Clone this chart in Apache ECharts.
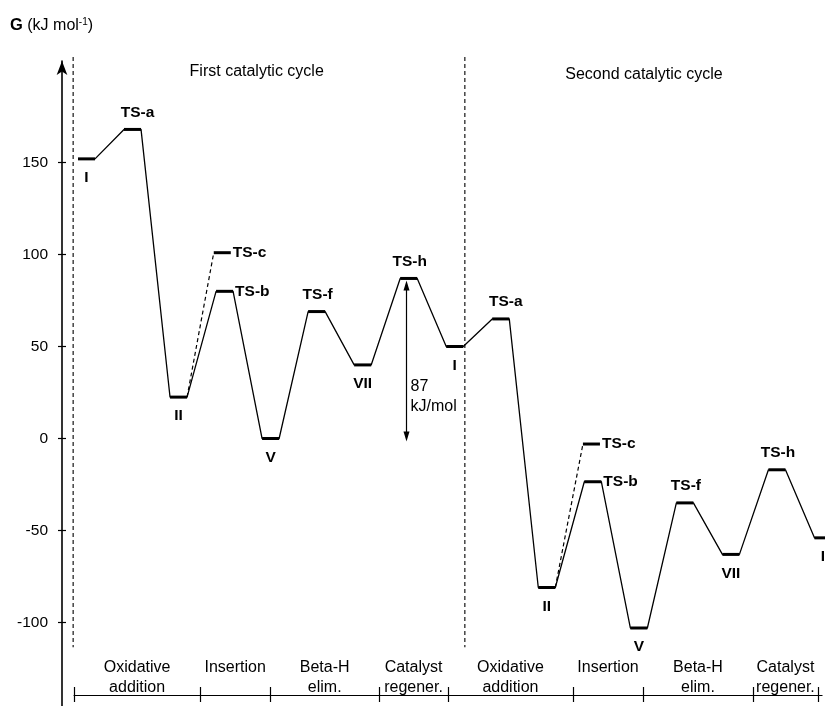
<!DOCTYPE html>
<html>
<head>
<meta charset="utf-8">
<script src="https://cdn.jsdelivr.net/npm/echarts@6.0.0/dist/echarts.min.js"></script>
<style>
html,body{margin:0;padding:0;background:#ffffff;}
#chart{width:825px;height:706px;}
</style>
</head>
<body>
<div id="chart"></div>
<script>
// ---------------- data ----------------
const stateNames = ['I','TS-a','II','TS-b','V','TS-f','VII','TS-h','I','TS-a','II','TS-b','V','TS-f','VII','TS-h','I'];
const stateG     = [152, 168, 22.5, 80, 0, 69, 40, 87, 50, 65, -81, -23.5, -103, -35, -63, -17, -54];
const stateX     = [0, 1, 2, 3, 4, 5, 6, 7, 8, 9, 10, 11, 12, 13, 14, 15, 16];
const altNames   = ['TS-c', 'TS-c'];
const altG       = [101, -3];
const altX       = [2.95, 10.97];
const altFrom    = [2, 10];
const phaseNames = ['Oxidative\naddition','Insertion','Beta-H\nelim.','Catalyst\nregener.','Oxidative\naddition','Insertion','Beta-H\nelim.','Catalyst\nregener.'];
const phaseBounds = [-0.27, 2.47, 3.99, 6.36, 7.85, 10.57, 12.09, 14.48, 15.89];
const cycleTitles = ['First catalytic cycle', 'Second catalytic cycle'];
const cycleSeparators = [-0.29, 8.22];
const yTicks = [-100, -50, 0, 50, 100, 150];
const barrierText = ['87', 'kJ/mol'];
const barrierX = 6.94, barrierTop = 87, barrierBottom = 0;

// ---------------- layout ----------------
const FONT = '"Liberation Sans", Arial, Helvetica, sans-serif';
const W = 825;
const X_MIN = -0.532, X_MAX = 16.044, Y_MIN = -145.4, Y_MAX = 205.2;
const G_LEFT = 62, G_TOP = 61;
const PPU = (W - G_LEFT) / (X_MAX - X_MIN);
const HALF = 0.185;
const SEP_BOTTOM = -113.5;
const axisEnd = phaseBounds[phaseBounds.length - 1] + 0.09;
const g2Left = G_LEFT + (phaseBounds[0] - X_MIN) * PPU;
const g2Right = W - (G_LEFT + (axisEnd - X_MIN) * PPU);
const phaseMids = phaseBounds.slice(0, -1).map((b, i) => (b + phaseBounds[i + 1]) / 2);

// path lines
const mainPath = [];
stateX.forEach((x, i) => { mainPath.push([x - HALF, stateG[i]]); mainPath.push([x + HALF, stateG[i]]); });
const altPaths = altX.map((x, k) => [[stateX[altFrom[k]] + HALF, stateG[altFrom[k]]], [x - HALF, altG[k]]]);

function kindOf(name) {
  if (name === 'TS-b' || name === 'TS-c') return 'right';
  if (name.indexOf('TS') === 0) return 'top';
  return 'bottom';
}
const levelData = stateX.map((x, i) => [x, stateG[i], stateNames[i], kindOf(stateNames[i])])
  .concat(altX.map((x, k) => [x, altG[k], altNames[k], kindOf(altNames[k])]));

function renderLevel(params, api) {
  const x = api.value(0), g = api.value(1);
  const row = levelData[params.dataIndex];
  const name = row[2], kind = row[3];
  const p1 = api.coord([x - HALF, g]), p2 = api.coord([x + HALF, g]);
  const cx = (p1[0] + p2[0]) / 2;
  let tx, ty, align = 'center';
  if (kind === 'top') { tx = cx + (name === 'TS-a' ? 5 : 1); ty = p1[1] - 17; }
  else if (kind === 'bottom') { tx = cx; ty = p1[1] + 19; }
  else { tx = p2[0] + 2; ty = p1[1]; align = 'left'; }
  return {
    type: 'group',
    children: [
      { type: 'line', shape: { x1: p1[0], y1: p1[1], x2: p2[0], y2: p2[1] }, style: { stroke: '#000', lineWidth: 3 } },
      { type: 'text', style: { text: name, x: tx, y: ty, align: align, verticalAlign: 'middle',
        fontSize: 15.5, fontWeight: 'bold', fontFamily: FONT, fill: '#000' } }
    ]
  };
}

function renderSeparator(params, api) {
  const x = api.value(0);
  const top = api.coord([x, Y_MAX]);
  const bot = api.coord([x, SEP_BOTTOM]);
  return { type: 'line', shape: { x1: top[0], y1: top[1] - 4, x2: bot[0], y2: bot[1] },
    style: { stroke: '#000', lineWidth: 1.1, lineDash: [4, 3] } };
}

function renderBarrier(params, api) {
  const x = api.value(0);
  const t = api.coord([x, api.value(1)]);
  const b = api.coord([x, api.value(2)]);
  const px = Math.round(t[0]) + 0.5;
  const yt = t[1] + 2, yb = b[1] + 3;
  return {
    type: 'group',
    children: [
      { type: 'line', shape: { x1: px, y1: yt + 6, x2: px, y2: yb - 6 }, style: { stroke: '#000', lineWidth: 1.2 } },
      { type: 'polygon', shape: { points: [[px, yt], [px - 3, yt + 10], [px + 3, yt + 10]] }, style: { fill: '#000' } },
      { type: 'polygon', shape: { points: [[px, yb], [px - 3, yb - 10], [px + 3, yb - 10]] }, style: { fill: '#000' } },
      { type: 'text', style: { text: barrierText.join('\n'), x: px + 4, y: b[1] - 22, align: 'left', verticalAlign: 'bottom',
        fontSize: 16, lineHeight: 20, fontFamily: FONT, fill: '#000' } }
    ]
  };
}

const chart = echarts.init(document.getElementById('chart'), null, { renderer: 'canvas' });
const option = {
  backgroundColor: '#ffffff',
  animation: false,
  textStyle: { fontFamily: FONT, color: '#000' },
  grid: [
    { left: G_LEFT, right: 0, top: G_TOP, bottom: 0, containLabel: false, outerBoundsMode: 'none' },
    { left: g2Left, right: g2Right, top: 600, bottom: 11, containLabel: false, outerBoundsMode: 'none' }
  ],
  xAxis: [
    { type: 'value', gridIndex: 0, min: X_MIN, max: X_MAX, show: false },
    { type: 'value', gridIndex: 1, min: phaseBounds[0], max: axisEnd, position: 'bottom',
      axisLine: { show: true, onZero: false, lineStyle: { color: '#000', width: 1.2 } },
      axisTick: { show: true, inside: false, length: 7, customValues: phaseBounds, lineStyle: { color: '#000', width: 1.2 } },
      axisLabel: { show: true, inside: true, margin: -3, customValues: phaseMids,
        formatter: function (v) {
          let best = 0;
          phaseMids.forEach((m, i) => { if (Math.abs(m - v) < Math.abs(phaseMids[best] - v)) best = i; });
          const s = phaseNames[best];
          return s.indexOf('\n') >= 0 ? s : s + '\n ';
        },
        fontSize: 16, lineHeight: 20, fontFamily: FONT, color: '#000', verticalAlign: 'bottom' },
      splitLine: { show: false } },
    { type: 'value', gridIndex: 1, min: phaseBounds[0], max: axisEnd, position: 'bottom',
      axisLine: { show: false, onZero: false },
      axisTick: { show: true, inside: true, length: 8, customValues: phaseBounds, lineStyle: { color: '#000', width: 1.2 } },
      axisLabel: { show: false }, splitLine: { show: false } }
  ],
  yAxis: [
    { type: 'value', gridIndex: 0, min: Y_MIN, max: Y_MAX, position: 'left',
      axisLine: { show: true, onZero: false, symbol: ['none', 'arrow'], symbolSize: [8, 14], lineStyle: { color: '#000', width: 1.6 } },
      axisTick: { show: true, inside: false, length: 4, customValues: yTicks, lineStyle: { color: '#000', width: 1.2 } },
      axisLabel: { show: true, margin: 14, customValues: yTicks, fontSize: 15.5, fontFamily: FONT, color: '#000' },
      splitLine: { show: false } },
    { type: 'value', gridIndex: 0, min: Y_MIN, max: Y_MAX, position: 'left',
      axisLine: { show: false, onZero: false },
      axisTick: { show: true, inside: true, length: 4, customValues: yTicks, lineStyle: { color: '#000', width: 1.2 } },
      axisLabel: { show: false }, splitLine: { show: false } },
    { type: 'value', gridIndex: 1, show: false, min: 0, max: 1 }
  ],
  graphic: [
    { type: 'text', left: 10, top: 17, style: { text: '{g|G} (kJ mol{s|-1})', fontSize: 16, fontFamily: FONT, fill: '#000',
      rich: { g: { fontSize: 16.5, fontWeight: 'bold', fontFamily: FONT }, s: { fontSize: 10, fontFamily: FONT, verticalAlign: 'top', padding: [0, 0, 6, 0] } } } },
    { type: 'text', x: 256.7, y: 72, style: { text: cycleTitles[0], align: 'center', verticalAlign: 'middle', fontSize: 16, fontFamily: FONT, fill: '#000' } },
    { type: 'text', x: 644, y: 75, style: { text: cycleTitles[1], align: 'center', verticalAlign: 'middle', fontSize: 16, fontFamily: FONT, fill: '#000' } }
  ],
  series: [
    { type: 'line', xAxisIndex: 0, yAxisIndex: 0, data: mainPath, symbol: 'none', silent: true,
      lineStyle: { color: '#000', width: 1.3 } },
    { type: 'line', xAxisIndex: 0, yAxisIndex: 0, data: altPaths[0], symbol: 'none', silent: true,
      lineStyle: { color: '#000', width: 1.2, type: [4, 3] } },
    { type: 'line', xAxisIndex: 0, yAxisIndex: 0, data: altPaths[1], symbol: 'none', silent: true,
      lineStyle: { color: '#000', width: 1.2, type: [4, 3] } },
    { type: 'custom', xAxisIndex: 0, yAxisIndex: 0, data: cycleSeparators.map(x => [x]), renderItem: renderSeparator, silent: true },
    { type: 'custom', xAxisIndex: 0, yAxisIndex: 0, data: [[barrierX, barrierTop, barrierBottom]], renderItem: renderBarrier, silent: true },
    { type: 'custom', xAxisIndex: 0, yAxisIndex: 0, data: levelData.map(r => [r[0], r[1]]), renderItem: renderLevel, silent: true }
  ]
};
chart.setOption(option);
</script>
</body>
</html>
